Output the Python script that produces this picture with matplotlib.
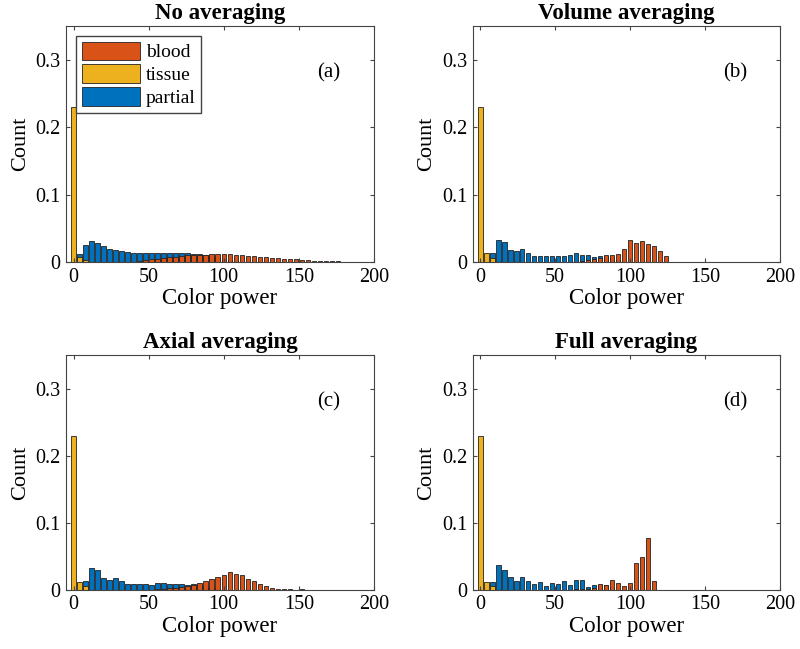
import matplotlib.pyplot as plt
import numpy as np

plt.rcParams['font.family'] = ['Liberation Serif', 'DejaVu Serif']

# Histogram bin centres (colour power), bin width 4
bin_centers = np.arange(0, 201, 4)

# (a) No averaging
tissue_a = [0.23, 0.007, 0.003]
partial_a = [0, 0.0125, 0.025, 0.031, 0.028, 0.024, 0.020, 0.018, 0.017, 0.015,
             0.014, 0.013, 0.013, 0.013, 0.013, 0.013, 0.013, 0.013, 0.013, 0.013,
             0.012, 0.012, 0.011, 0.009, 0.007, 0.005, 0.003, 0.002, 0.001]
blood_a = [0] * 10 + [0.001, 0.002, 0.003, 0.004, 0.005, 0.006, 0.007, 0.008, 0.009, 0.010,
                      0.010, 0.011, 0.011, 0.0115, 0.012, 0.012, 0.0115, 0.011, 0.010, 0.0095,
                      0.009, 0.008, 0.007, 0.0065, 0.006, 0.005, 0.0045, 0.004, 0.0035, 0.003,
                      0.0025, 0.002, 0.0018, 0.0015, 0.0012, 0.001, 0.0008, 0.0007, 0.0006,
                      0.0005, 0.0004]

# (b) Volume averaging
tissue_b = [0.23, 0.013, 0.006]
partial_b = [0, 0, 0.014, 0.033, 0.030, 0.018, 0.016, 0.020, 0.014, 0.009,
             0.009, 0.009, 0.009, 0.009, 0.009, 0.010, 0.013, 0.011, 0.011, 0.008,
             0.009, 0.009, 0.006, 0.003]
blood_b = [0] * 16 + [0.001, 0.002, 0.003, 0.005, 0.006, 0.010, 0.011, 0.012, 0.019, 0.033,
                      0.029, 0.032, 0.0275, 0.024, 0.0165, 0.009, 0.001, 0.0003, 0.0002,
                      0.0002, 0.0003, 0.0002]

# (c) Axial averaging
tissue_c = [0.23, 0.0115, 0.006]
partial_c = [0, 0, 0.013, 0.033, 0.030, 0.0175, 0.0155, 0.018, 0.013, 0.0095,
             0.0085, 0.0085, 0.0085, 0.008, 0.0105, 0.011, 0.0095, 0.0095, 0.0095, 0.008,
             0.009, 0.007, 0.005, 0.003, 0.002]
blood_c = [0] * 14 + [0.001, 0.002, 0.003, 0.003, 0.004, 0.006, 0.008, 0.0105, 0.0135, 0.0165,
                      0.020, 0.023, 0.0265, 0.024, 0.022, 0.017, 0.0135, 0.009, 0.006, 0.0035,
                      0.002, 0.0012, 0.0008, 0.0005, 0.0008, 0.0003, 0.0002]

# (d) Full averaging
tissue_d = [0.23, 0.0115, 0.006]
partial_d = [0, 0, 0.0115, 0.0365, 0.029, 0.019, 0.014, 0.020, 0.0135, 0.009,
             0.0115, 0.0055, 0.010, 0.009, 0.013, 0.0075, 0.0155, 0.0145, 0.004, 0.0075,
             0.008, 0.008, 0.004]
blood_d = [0] * 16 + [0.002, 0.002, 0.002, 0.003, 0.009, 0.0075, 0.015, 0.0105, 0.006, 0.0105,
                      0.0405, 0.0495, 0.077, 0.014]

titles = ['No averaging', 'Volume averaging', 'Axial averaging', 'Full averaging']
tags = ['(a)', '(b)', '(c)', '(d)']
panels = [(blood_a, tissue_a, partial_a), (blood_b, tissue_b, partial_b),
          (blood_c, tissue_c, partial_c), (blood_d, tissue_d, partial_d)]

c_blood = '#D95319'
c_tissue = '#EDB120'
c_partial = '#0072BD'


def pad(vals):
    out = np.zeros(len(bin_centers))
    out[:len(vals)] = vals[:len(bin_centers)]
    return out


fig = plt.figure(figsize=(8, 6.49), dpi=100)
positions = [[0.0825, 0.596, 0.385, 0.364], [0.591, 0.596, 0.384, 0.364],
             [0.0825, 0.091, 0.385, 0.362], [0.591, 0.091, 0.384, 0.362]]

for i, (blood, tissue, partial) in enumerate(panels):
    ax = fig.add_axes(positions[i])
    hp = ax.bar(bin_centers, pad(partial), width=3, color=c_partial,
                edgecolor='#222222', linewidth=0.6, label='partial')
    ht = ax.bar(bin_centers, pad(tissue), width=3, color=c_tissue,
                edgecolor='#222222', linewidth=0.6, label='tissue')
    hb = ax.bar(bin_centers, pad(blood), width=3, color=c_blood,
                edgecolor='#222222', linewidth=0.6, label='blood')
    ax.set_xlim(-5, 200)
    ax.set_ylim(0, 0.35)
    ax.set_xticks([0, 50, 100, 150, 200])
    ax.set_yticks([0, 0.1, 0.2, 0.3])
    ax.set_yticklabels(['0', '0.1', '0.2', '0.3'])
    ax.tick_params(direction='in', top=True, right=True, labelsize=14.5,
                   length=3, color='#444444', pad=4)
    for s in ax.spines.values():
        s.set_color('#444444')
        s.set_linewidth(0.8)
    ax.set_xlabel('Color power', fontsize=16.5, labelpad=1)
    ax.set_ylabel('Count', fontsize=16, labelpad=4)
    ax.set_title(titles[i], fontsize=16.5, fontweight='bold', pad=5)
    ax.text(170, 0.28, tags[i], fontsize=15, ha='center', va='center')
    if i == 0:
        ax.legend(handles=[hb, ht, hp], loc='upper left', fontsize=14,
                  handlelength=3.0, handleheight=1.1, fancybox=False,
                  edgecolor='#444444', framealpha=1, borderpad=0.3,
                  labelspacing=0.15, handletextpad=0.3, borderaxespad=0.5)

fig.savefig('out.png', dpi=100)
